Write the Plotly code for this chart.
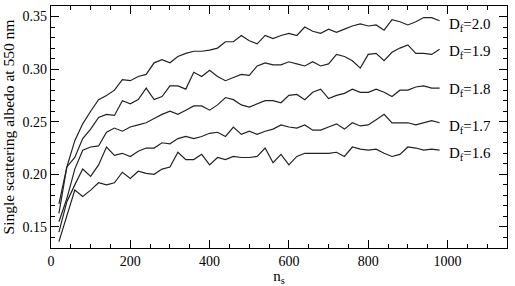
import plotly.graph_objects as go

ns = list(range(20, 1000, 20))

albedo_df20 = [0.172, 0.207, 0.232, 0.248, 0.260, 0.271, 0.275, 0.280, 0.290, 0.289,
               0.293, 0.295, 0.306, 0.309, 0.306, 0.312, 0.315, 0.317, 0.317, 0.318,
               0.320, 0.326, 0.326, 0.332, 0.327, 0.324, 0.332, 0.329, 0.332, 0.334,
               0.332, 0.340, 0.336, 0.334, 0.338, 0.335, 0.338, 0.341, 0.343, 0.341,
               0.342, 0.337, 0.347, 0.345, 0.342, 0.345, 0.349, 0.349, 0.346]
albedo_df19 = [0.163, 0.207, 0.216, 0.234, 0.243, 0.254, 0.257, 0.256, 0.270, 0.267,
               0.271, 0.282, 0.271, 0.274, 0.284, 0.284, 0.281, 0.297, 0.293, 0.299,
               0.293, 0.289, 0.292, 0.295, 0.294, 0.303, 0.306, 0.304, 0.304, 0.307,
               0.305, 0.303, 0.307, 0.303, 0.305, 0.314, 0.312, 0.308, 0.301, 0.314,
               0.315, 0.308, 0.316, 0.320, 0.323, 0.315, 0.315, 0.314, 0.319]
albedo_df18 = [0.155, 0.177, 0.205, 0.223, 0.226, 0.227, 0.240, 0.244, 0.241, 0.245,
               0.247, 0.249, 0.253, 0.257, 0.260, 0.257, 0.261, 0.265, 0.265, 0.261,
               0.266, 0.273, 0.271, 0.266, 0.264, 0.267, 0.270, 0.270, 0.268, 0.275,
               0.276, 0.271, 0.278, 0.281, 0.272, 0.275, 0.277, 0.281, 0.278, 0.278,
               0.281, 0.278, 0.274, 0.280, 0.280, 0.283, 0.284, 0.282, 0.282]
albedo_df17 = [0.145, 0.174, 0.190, 0.205, 0.198, 0.209, 0.226, 0.218, 0.220, 0.217,
               0.222, 0.225, 0.225, 0.230, 0.229, 0.234, 0.236, 0.234, 0.236, 0.239,
               0.240, 0.236, 0.245, 0.238, 0.241, 0.238, 0.241, 0.243, 0.247, 0.245,
               0.244, 0.247, 0.242, 0.242, 0.245, 0.248, 0.243, 0.249, 0.246, 0.247,
               0.252, 0.257, 0.249, 0.249, 0.249, 0.247, 0.249, 0.251, 0.249]
albedo_df16 = [0.136, 0.160, 0.185, 0.179, 0.185, 0.192, 0.190, 0.192, 0.202, 0.196,
               0.203, 0.201, 0.200, 0.205, 0.207, 0.221, 0.214, 0.214, 0.219, 0.209,
               0.216, 0.214, 0.217, 0.216, 0.216, 0.217, 0.225, 0.211, 0.219, 0.209,
               0.217, 0.220, 0.220, 0.220, 0.220, 0.221, 0.217, 0.226, 0.224, 0.223,
               0.224, 0.220, 0.217, 0.219, 0.226, 0.225, 0.223, 0.224, 0.223]

series = [albedo_df20, albedo_df19, albedo_df18, albedo_df17, albedo_df16]
labels = ["D<sub>f</sub>=2.0", "D<sub>f</sub>=1.9", "D<sub>f</sub>=1.8",
          "D<sub>f</sub>=1.7", "D<sub>f</sub>=1.6"]
label_y = [0.3415, 0.3164, 0.280, 0.2454, 0.2197]

FONT = "Liberation Serif"

fig = go.Figure()
for ys in series:
    fig.add_trace(go.Scatter(x=ns, y=ys, mode="lines",
                             line=dict(color="#222222", width=1.2),
                             showlegend=False, hoverinfo="skip"))

for lab, ly in zip(labels, label_y):
    fig.add_annotation(x=998, y=ly, xref="x", yref="y", text=lab,
                       showarrow=False, xanchor="left", yanchor="middle",
                       font=dict(family=FONT, size=15, color="black"))

axis_common = dict(showline=True, linecolor="black", linewidth=1.3, mirror="ticks",
                   ticks="inside", ticklen=8, tickwidth=1, tickcolor="black",
                   showgrid=False, zeroline=False,
                   tickfont=dict(family=FONT, size=14, color="black"))

fig.update_xaxes(range=[0, 1150], dtick=200, tick0=0,
                 minor=dict(ticks="inside", ticklen=4, dtick=50, tickcolor="black", showgrid=False),
                 title=dict(text="n<sub>s</sub>", font=dict(family=FONT, size=15, color="black"), standoff=2),
                 **axis_common)
fig.update_yaxes(range=[0.13, 0.36], dtick=0.05, tick0=0.15, tickformat=".2f",
                 minor=dict(ticks="inside", ticklen=4, dtick=0.01, tickcolor="black", showgrid=False),
                 title=dict(text="Single scattering albedo at 550 nm", font=dict(family=FONT, size=15.5, color="black"), standoff=4),
                 **axis_common)

fig.update_layout(width=515, height=286, margin=dict(l=51, r=8, t=5, b=37),
                  plot_bgcolor="white", paper_bgcolor="white",
                  font=dict(family=FONT, color="black"))

fig.write_html("out.html")
